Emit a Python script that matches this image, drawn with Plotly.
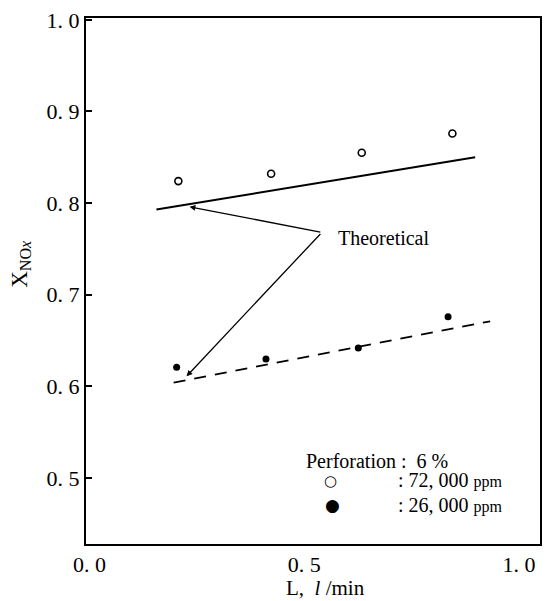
import plotly.graph_objects as go

# Data
L_open = [0.207, 0.423, 0.634, 0.845]
X_open = [0.824, 0.832, 0.855, 0.876]
L_filled = [0.203, 0.411, 0.626, 0.835]
X_filled = [0.621, 0.630, 0.642, 0.676]

# Theoretical lines
L_theo_72 = [0.156, 0.898]
X_theo_72 = [0.793, 0.850]
L_theo_26 = [0.196, 0.933]
X_theo_26 = [0.604, 0.671]

# Label pointer: vertex and two arrow tips
theo_vertex = (0.541, 0.768)
theo_tips = [(0.233, 0.796), (0.226, 0.611)]
theo_label_pos = (0.574, 0.762)

y_ticks = [0.5, 0.6, 0.7, 0.8, 0.9, 1.0]
y_ticktext = ["0. 5", "0. 6", "0. 7", "0. 8", "0. 9", "1. 0"]
x_ticks = [0.0, 0.5, 1.0]
x_ticktext = ["0. 0", "0. 5", "1. 0"]

SERIF = "Liberation Serif, Times New Roman, serif"

fig = go.Figure()
fig.add_trace(go.Scatter(x=L_theo_72, y=X_theo_72, mode="lines",
                         line=dict(color="black", width=2), showlegend=False))
fig.add_trace(go.Scatter(x=L_theo_26, y=X_theo_26, mode="lines",
                         line=dict(color="black", width=1.8, dash="12px,9px"), showlegend=False))
fig.add_trace(go.Scatter(x=L_open, y=X_open, mode="markers",
                         marker=dict(symbol="circle-open", size=7, color="black",
                                     line=dict(width=1.6, color="black")),
                         showlegend=False))
fig.add_trace(go.Scatter(x=L_filled, y=X_filled, mode="markers",
                         marker=dict(symbol="circle", size=7, color="black"),
                         showlegend=False))

for tx, ty in theo_tips:
    fig.add_annotation(x=tx, y=ty, ax=theo_vertex[0], ay=theo_vertex[1],
                       xref="x", yref="y", axref="x", ayref="y",
                       text="", showarrow=True, arrowhead=2, arrowsize=0.9,
                       arrowwidth=1.3, arrowcolor="black")

fig.add_annotation(x=theo_label_pos[0], y=theo_label_pos[1], xref="x", yref="y",
                   text="Theoretical", showarrow=False, xanchor="left", yanchor="middle",
                   font=dict(family=SERIF, size=20, color="black"))

# Legend block (text)
fig.add_annotation(x=0.480, y=0.158, xref="paper", yref="paper", xanchor="left", yanchor="middle",
                   text="Perforation :  6 %", showarrow=False,
                   font=dict(family=SERIF, size=20, color="black"))
fig.add_annotation(x=0.539, y=0.120, xref="paper", yref="paper", xanchor="center", yanchor="middle",
                   text="○", showarrow=False, font=dict(family="DejaVu Sans", size=15, color="black"))
fig.add_annotation(x=0.542, y=0.075, xref="paper", yref="paper", xanchor="center", yanchor="middle",
                   text="●", showarrow=False, font=dict(family="DejaVu Sans", size=17, color="black"))
fig.add_annotation(x=0.682, y=0.122, xref="paper", yref="paper", xanchor="left", yanchor="middle",
                   text=": 72, 000 <span style='font-size:16px'>ppm</span>", showarrow=False,
                   font=dict(family=SERIF, size=20, color="black"))
fig.add_annotation(x=0.682, y=0.075, xref="paper", yref="paper", xanchor="left", yanchor="middle",
                   text=": 26, 000 <span style='font-size:16px'>ppm</span>", showarrow=False,
                   font=dict(family=SERIF, size=20, color="black"))

# Axis titles
fig.add_annotation(x=-0.145, y=0.533, xref="paper", yref="paper", textangle=-90,
                   xanchor="center", yanchor="middle",
                   text="X<sub>NO<i>x</i></sub>", showarrow=False,
                   font=dict(family=SERIF, size=23, color="black"))
fig.add_annotation(x=0.528, y=-0.083, xref="paper", yref="paper", xanchor="center", yanchor="middle",
                   text="L,  <i>l</i> /min", showarrow=False,
                   font=dict(family=SERIF, size=21, color="black"))

fig.update_xaxes(range=[-0.008, 1.049], tickvals=x_ticks, ticktext=x_ticktext,
                 showgrid=False, zeroline=False, showline=True, linecolor="black",
                 linewidth=2, mirror=True, ticks="",
                 tickfont=dict(family=SERIF, size=22, color="black"))
fig.update_yaxes(range=[0.428, 1.002], tickvals=y_ticks, ticktext=y_ticktext,
                 showgrid=False, zeroline=False, showline=True, linecolor="black",
                 linewidth=2, mirror=True, ticks="inside", ticklen=6, tickwidth=1.5,
                 tickcolor="black", tickfont=dict(family=SERIF, size=22, color="black"))

fig.update_layout(width=550, height=601, margin=dict(l=86, r=8, t=11, b=57),
                  plot_bgcolor="white", paper_bgcolor="white", showlegend=False)

fig.write_html("out.html", config={"displayModeBar": False},
               post_script="document.body.style.margin='0';document.body.style.padding='0';")
